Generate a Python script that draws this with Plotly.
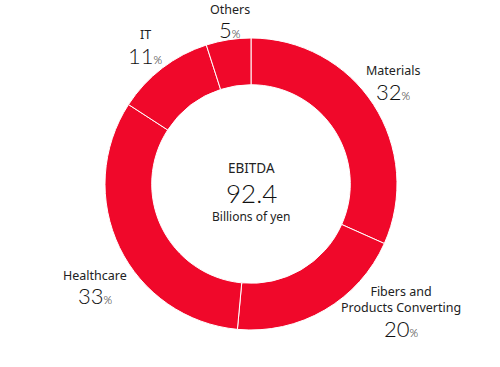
import plotly.graph_objects as go

categories = ["Materials", "Fibers and<br>Products Converting", "Healthcare", "IT", "Others"]
shares = [32, 20, 33, 11, 5]
center_title = "EBITDA"
center_value = "92.4"
center_unit = "Billions of yen"

# label anchor positions in pixels (x, y of label top line center)
label_pos = [(393, 71), (401, 290), (95, 275), (145, 35), (230, 10)]

W, H = 500, 367
cx, cy, r = 251, 184, 146


def px(x):
    return x / W


def py(y):
    return 1 - y / H


fig = go.Figure(go.Pie(
    values=shares,
    labels=categories,
    sort=False,
    direction="clockwise",
    rotation=0,
    hole=0.68,
    marker=dict(colors=["#F0082A"] * len(shares), line=dict(color="white", width=1)),
    textinfo="none",
    hoverinfo="label+percent",
    showlegend=False,
    domain=dict(x=[px(cx - r), px(cx + r)], y=[py(cy + r), py(cy - r)]),
))

FONT = "Noto Sans"
NUMFONT = "Lato"
TXT = "#222222"
NUMC = "#111111"
LH = 18
ann = []
for cat, v, (x, y) in zip(categories, shares, label_pos):
    nlines = cat.count("<br>") + 1
    ann.append(dict(x=px(x), y=py(y + LH * (nlines - 1) / 2), xref="paper", yref="paper",
                    showarrow=False, text=cat, font=dict(family=FONT, size=12.5, color=TXT),
                    xanchor="center", yanchor="middle", align="center", borderpad=0))
    ny = y + LH * nlines + 2
    ann.append(dict(x=px(x), y=py(ny), xref="paper", yref="paper", showarrow=False,
                    text=f"{v}<span style='font-size:11px'>%</span>",
                    font=dict(family=NUMFONT, size=22, color=NUMC, weight=300),
                    xanchor="center", yanchor="middle", borderpad=0))

ann.append(dict(x=px(cx), y=py(168), xref="paper", yref="paper", showarrow=False,
                text=center_title, font=dict(family=FONT, size=13.5, color=TXT), borderpad=0))
ann.append(dict(x=px(cx), y=py(193), xref="paper", yref="paper", showarrow=False,
                text=center_value, font=dict(family=NUMFONT, size=26, color=NUMC, weight=300),
                borderpad=0))
ann.append(dict(x=px(cx), y=py(216), xref="paper", yref="paper", showarrow=False,
                text=center_unit, font=dict(family=FONT, size=12, color=TXT), borderpad=0))

fig.update_layout(width=W, height=H, margin=dict(l=0, r=0, t=0, b=0),
                  paper_bgcolor="white", plot_bgcolor="white", annotations=ann)
fig.write_html("out.html", config={"displayModeBar": False},
               post_script="document.body.style.margin='0';")
